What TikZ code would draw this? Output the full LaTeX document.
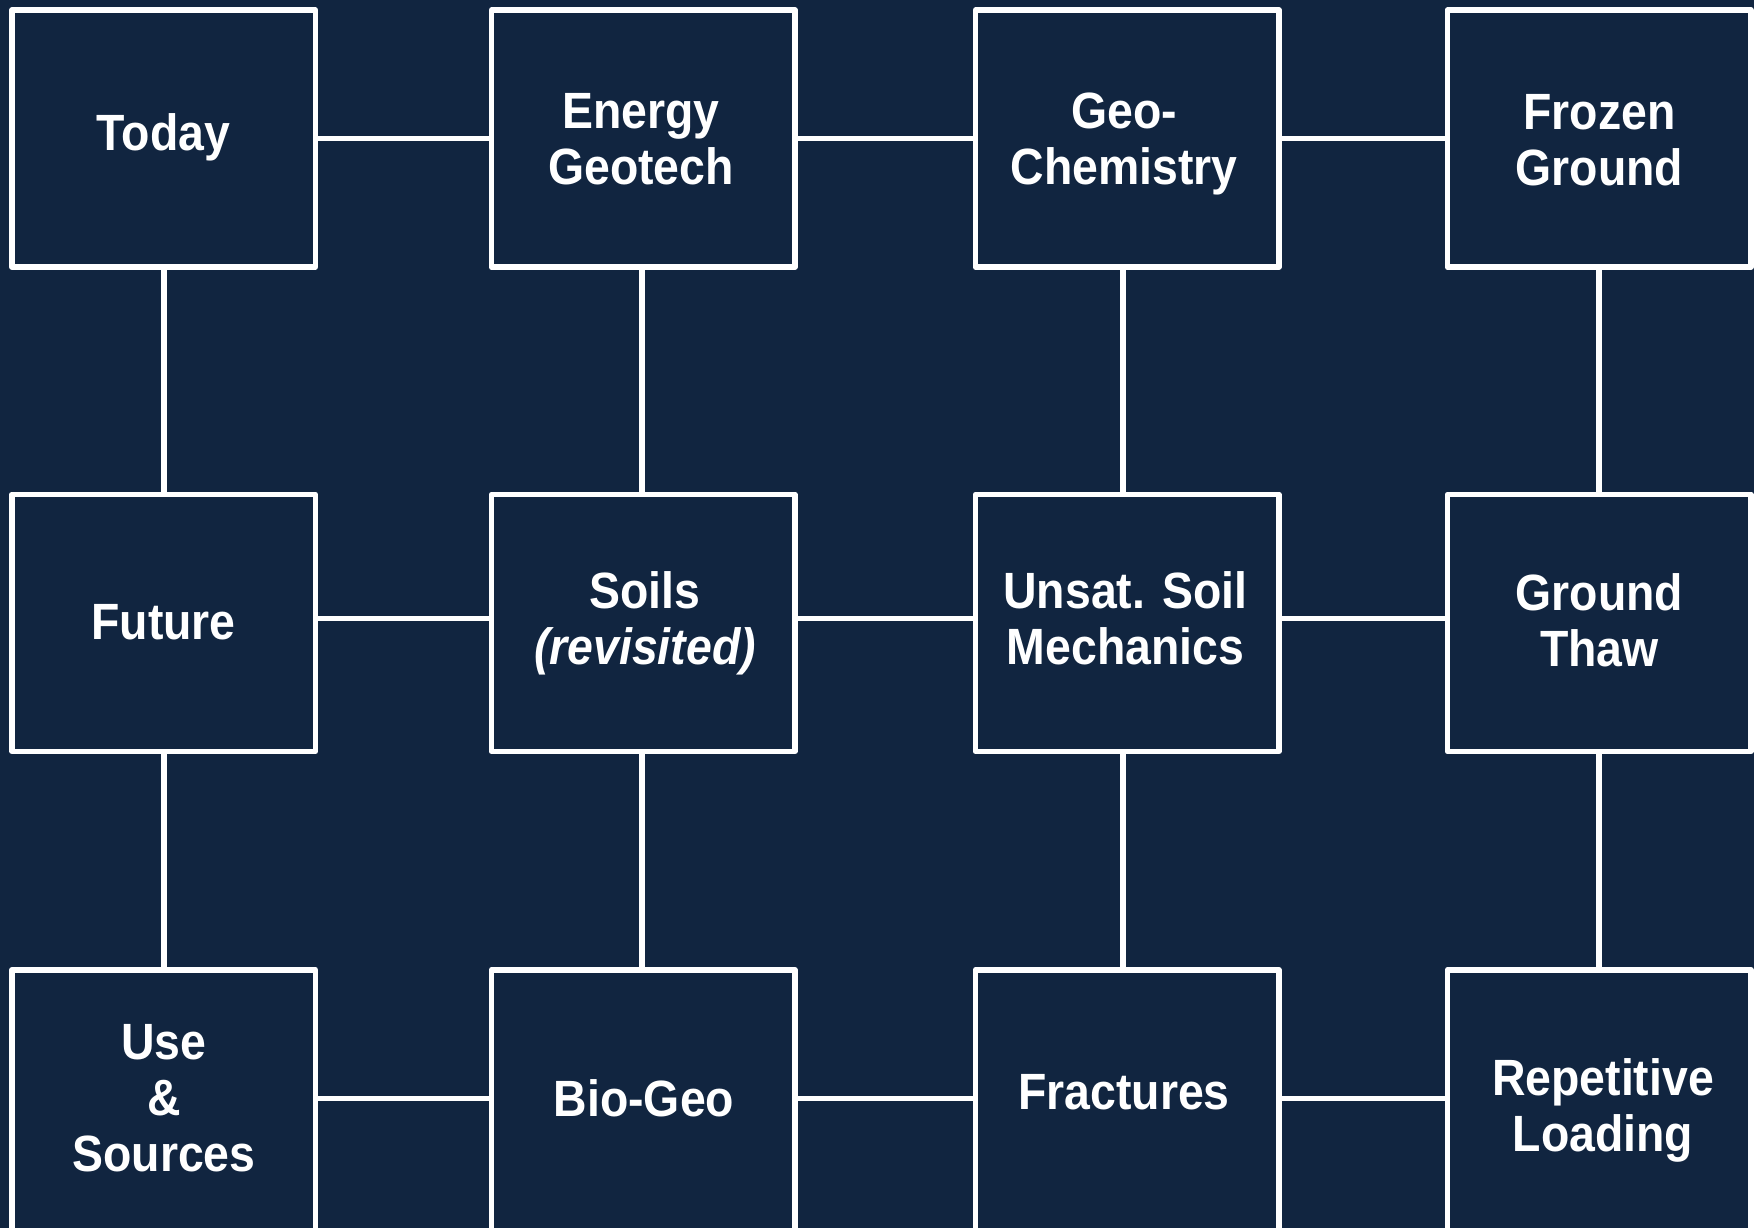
\documentclass[tikz,border=0pt]{standalone}
\usepackage{fontspec}
\setmainfont{Liberation Sans}[FakeStretch=0.91]
\definecolor{navy}{HTML}{112540}

\begin{document}
\begin{tikzpicture}[x=1pt,y=-1pt,
  cell/.style={draw=white, line width=5.5pt, fill=navy, line join=round,
    inner sep=0pt, minimum width=303.4pt, minimum height=257pt},
  tallcell/.style={cell, minimum height=275.25pt},
  celltext/.style={text=white, inner sep=0pt, align=center,
    font=\fontsize{51}{56}\selectfont\bfseries},
  link/.style={draw=white, line width=5.5pt}]

% page and background
\useasboundingbox (0,0) rectangle (1754,1228);
\clip (0,0) rectangle (1754,1228);
\fill[navy] (0,0) rectangle (1754,1228);

% boxes: four columns, three rows (bottom row runs off the page)
\node[cell] (today)  at (163.6,138.65)  {};
\node[cell] (energy) at (643.25,138.65) {};
\node[cell] (chem)   at (1127.25,138.65){};
\node[cell] (frozen) at (1599.1,138.65) {};

\node[cell] (future) at (163.6,622.9)   {};
\node[cell] (soils)  at (643.25,622.9)  {};
\node[cell] (unsat)  at (1127.25,622.9) {};
\node[cell] (thaw)   at (1599.1,622.9)  {};

\node[tallcell] (use)    at (163.6,1107.4)  {};
\node[tallcell] (bio)    at (643.25,1107.4) {};
\node[tallcell] (fract)  at (1127.25,1107.4){};
\node[tallcell] (repeat) at (1599.1,1107.4) {};

% horizontal links
\draw[link] (today.east) -- (energy.west);
\draw[link] (energy.east) -- (chem.west);
\draw[link] (chem.east) -- (frozen.west);
\draw[link] ([yshift=4.6pt]future.east) -- ([yshift=4.6pt]soils.west);
\draw[link] ([yshift=4.6pt]soils.east) -- ([yshift=4.6pt]unsat.west);
\draw[link] ([yshift=4.6pt]unsat.east) -- ([yshift=4.6pt]thaw.west);
\draw[link] ([yshift=9.1pt]use.east) -- ([yshift=9.1pt]bio.west);
\draw[link] ([yshift=9.1pt]bio.east) -- ([yshift=9.1pt]fract.west);
\draw[link] ([yshift=9.1pt]fract.east) -- ([yshift=9.1pt]repeat.west);

% vertical links
\draw[link] ([xshift=0.4pt]today.south) -- ([xshift=0.4pt]future.north);
\draw[link] ([xshift=0.4pt]future.south) -- ([xshift=0.4pt]use.north);
\draw[link] ([xshift=-1.25pt]energy.south) -- ([xshift=-1.25pt]soils.north);
\draw[link] ([xshift=-1.25pt]soils.south) -- ([xshift=-1.25pt]bio.north);
\draw[link] ([xshift=-4.25pt]chem.south) -- ([xshift=-4.25pt]unsat.north);
\draw[link] ([xshift=-4.25pt]unsat.south) -- ([xshift=-4.25pt]fract.north);
\draw[link] (frozen.south) -- (thaw.north);
\draw[link] (thaw.south) -- (repeat.north);

% labels
\node[celltext] (todaytxt)  at (163.6,137.5)  {Today};
\node[celltext] (energytxt) at (641,139.3)    {Energy\\Geotech};
\node[celltext] (chemtxt)   at (1124,144)     {Geo-\\Chemistry};
\node[celltext] (frozentxt) at (1599.5,140.5) {Frozen\\Ground};

\node[celltext] (futuretxt) at (163.6,622)    {Future};
\node[celltext] (soilstxt)  at (645,623.3)    {Soils\\\itshape(revisited)};
\node[celltext] (unsattxt)  at (1125.5,617.8) {Unsat. Soil\\Mechanics};
\node[celltext] (thawtxt)   at (1599.5,620.3) {Ground\\Thaw};

\node[celltext] (usetxt)    at (164,1098.3)   {Use\\\&\\Sources};
\node[celltext] (biotxt)    at (644,1098.5)   {Bio-Geo};
\node[celltext] (fracttxt)  at (1124,1092.5)  {Fractures};
\node[celltext] (repeattxt) at (1603,1110)    {Repetitive\\Loading};
\end{tikzpicture}
\end{document}
